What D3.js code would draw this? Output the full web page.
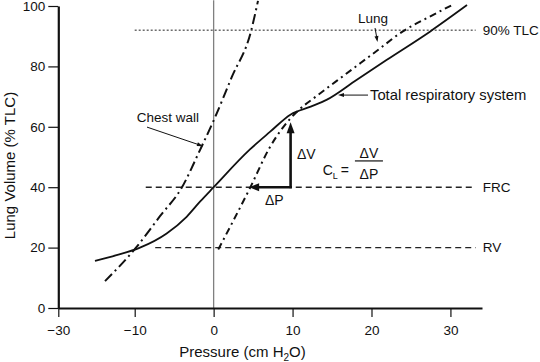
<!DOCTYPE html>
<html><head><meta charset="utf-8">
<script src="https://cdn.jsdelivr.net/npm/d3@7"></script>
<style>
body{margin:0;background:#fff;}
svg text{font-family:"Liberation Sans",Arial,Helvetica,sans-serif;fill:#111;}
</style></head><body>
<svg id="c" width="540" height="362"></svg>
<script>
// ---- data ----
const pressureTicks = [-30, -10, 0, 10, 20, 30];
const volumeTicks = [0, 20, 40, 60, 80, 100];

const totalP = [-20.4, -14.75, -9.33, -5.95, -3.42, -1.73, 0, 4.6, 7.13, 9.77, 12.3, 14.3, 18.1, 21.9, 27.4, 32.1];
const totalV = [15.6, 17.5, 20.0, 24.7, 30.2, 35.2, 40, 52.5, 58.3, 64.1, 66.7, 68.9, 75.5, 82.1, 91.5, 100.3];

const lungP = [0.59, 4.6, 7.14, 8.82, 10.52, 13.05, 15.59, 20.65, 24.02, 27.4, 30.19];
const lungV = [19.4, 39.7, 53.3, 59.9, 64.9, 70.2, 75.2, 85.1, 91.7, 96.5, 100.3];

const chestP = [-17.77, -9.73, -6.8, -4.05, -1.73, 0.04, 2.32, 4.73, 5.62];
const chestV = [8.9, 20.3, 30.4, 39.8, 52.3, 62.3, 76.6, 91.6, 101.7];

const refLevel = [92, 40, 20];
const refLabel = ["90% TLC", "FRC", "RV"];
const refFrom = [-10, -8.6, -7.4];
const refTo = 33.2;

// compliance construction: at P=9.75 from FRC (40) up to total curve, and back to lung curve
const deltaAt = {p: 9.75, v: 40, vTop: 61.5, pLeft: 4.5};

// ---- drawing ----
const svg = d3.select("#c");
const x = d3.scaleLinear().domain([-30, -10, 34]).range([58.3, 134.7, 482]);
const y = d3.scaleLinear().domain([0, 100]).range([308, 6]);

function arrow(g, x1, y1, x2, y2, len, wid, sw) {
  const dx = x2 - x1, dy = y2 - y1, L = Math.hypot(dx, dy);
  const ux = dx / L, uy = dy / L;
  const bx = x2 - ux * len, by = y2 - uy * len;
  g.append("line").attr("x1", x1).attr("y1", y1).attr("x2", bx + ux * 1).attr("y2", by + uy * 1)
    .attr("stroke", "#111").attr("stroke-width", sw);
  g.append("path").attr("d",
    `M${x2},${y2}L${bx - uy * wid / 2},${by + ux * wid / 2}L${bx + uy * wid / 2},${by - ux * wid / 2}Z`)
    .attr("fill", "#111");
}

// vertical zero-pressure line
svg.append("line").attr("x1", x(0)).attr("x2", x(0)).attr("y1", y(0)).attr("y2", y(101.9))
  .attr("stroke", "#808080").attr("stroke-width", 1.3);

// reference levels
refLevel.forEach((lv, i) => {
  svg.append("line").attr("x1", x(refFrom[i])).attr("x2", x(refTo)).attr("y1", y(lv)).attr("y2", y(lv))
    .attr("stroke", "#222").attr("stroke-width", i === 0 ? 1 : 1.4)
    .attr("stroke-dasharray", i === 0 ? "2,2" : "6,4");
  svg.append("text").attr("x", x(34.1)).attr("y", y(lv)).attr("dy", "0.35em")
    .attr("font-size", 13.5).text(refLabel[i]);
});

const line = d3.line().x(d => x(d[0])).y(d => y(d[1])).curve(d3.curveMonotoneX);

svg.append("path").datum(d3.zip(totalP, totalV)).attr("d", line)
  .attr("fill", "none").attr("stroke", "#111").attr("stroke-width", 1.8);
svg.append("path").datum(d3.zip(lungP, lungV)).attr("d", line)
  .attr("fill", "none").attr("stroke", "#111").attr("stroke-width", 2).attr("stroke-dasharray", "7,4,2,4");
svg.append("path").datum(d3.zip(chestP, chestV)).attr("d", line)
  .attr("fill", "none").attr("stroke", "#111").attr("stroke-width", 2).attr("stroke-dasharray", "10,4,2,4");

// axes
const ax = svg.append("g").attr("transform", `translate(0,${y(0)})`)
  .call(d3.axisBottom(x).tickValues(pressureTicks).tickSize(9).tickPadding(8).tickSizeOuter(0));
const ay = svg.append("g").attr("transform", `translate(${x(-30)},0)`)
  .call(d3.axisLeft(y).tickValues(volumeTicks).tickSize(10).tickPadding(3).tickSizeOuter(0));
[ax, ay].forEach(g => {
  g.attr("font-family", null).attr("font-size", 13.5);
  g.select(".domain").attr("stroke", "#111").attr("stroke-width", 2.2);
  g.selectAll(".tick line").attr("stroke", "#111").attr("stroke-width", 1.2);
  g.selectAll(".tick text").attr("fill", "#111");
});

// axis titles
const xt = svg.append("text").attr("x", 242.5).attr("y", 356.5).attr("text-anchor", "middle").attr("font-size", 15);
xt.append("tspan").text("Pressure (cm H");
xt.append("tspan").attr("font-size", 10).attr("dy", 4).text("2");
xt.append("tspan").attr("dy", -4).text("O)");
svg.append("text").attr("transform", "translate(15,165.5) rotate(-90)").attr("text-anchor", "middle")
  .attr("font-size", 15).text("Lung Volume (% TLC)");

// curve labels
const ann = svg.append("g");
ann.append("text").attr("x", x(-9.75)).attr("y", y(63.2)).attr("dy", "0.35em").attr("font-size", 13.5).text("Chest wall");
arrow(ann, x(-8.44), y(59.9), x(-1.35), y(53.6), 6, 4, 1);
ann.append("text").attr("x", x(18.29)).attr("y", y(95.9)).attr("dy", "0.35em").attr("font-size", 13.5).text("Lung");
arrow(ann, x(20.45), y(92.7), x(20.76), y(88.1), 6, 4, 1);
ann.append("text").attr("x", x(19.81)).attr("y", y(70.7)).attr("dy", "0.35em").attr("font-size", 14.8).text("Total respiratory system");
arrow(ann, x(19.56), y(70.5), x(15.76), y(70.5), 6, 4, 1);

// ΔV / ΔP construction
arrow(ann, x(deltaAt.p), y(deltaAt.v) + 1, x(deltaAt.p), y(deltaAt.vTop), 11, 8, 2.6);
arrow(ann, x(deltaAt.p) + 1.3, y(deltaAt.v), x(deltaAt.pLeft), y(deltaAt.v), 10, 8, 2.6);
ann.append("text").attr("x", x(10.56)).attr("y", y(50.8)).attr("dy", "0.35em").attr("font-size", 14).text("ΔV");
ann.append("text").attr("x", x(6.51)).attr("y", y(35.8)).attr("dy", "0.35em").attr("font-size", 14).text("ΔP");

// C_L = ΔV / ΔP
const cl = ann.append("text").attr("x", x(13.82)).attr("y", y(45.8)).attr("dy", "0.35em").attr("font-size", 14);
cl.append("tspan").text("C");
cl.append("tspan").attr("font-size", 9).attr("dy", 4).text("L");
cl.append("tspan").attr("dy", -4).attr("dx", 3).text("=");
const fc = x(19.68);
ann.append("text").attr("x", fc).attr("y", y(51.3)).attr("dy", "0.35em").attr("text-anchor", "middle").attr("font-size", 14).text("ΔV");
ann.append("line").attr("x1", x(17.9)).attr("x2", x(21.45)).attr("y1", y(48.7)).attr("y2", y(48.7))
  .attr("stroke", "#111").attr("stroke-width", 1.2);
ann.append("text").attr("x", fc).attr("y", y(44.4)).attr("dy", "0.35em").attr("text-anchor", "middle").attr("font-size", 14).text("ΔP");
</script>
</body></html>
